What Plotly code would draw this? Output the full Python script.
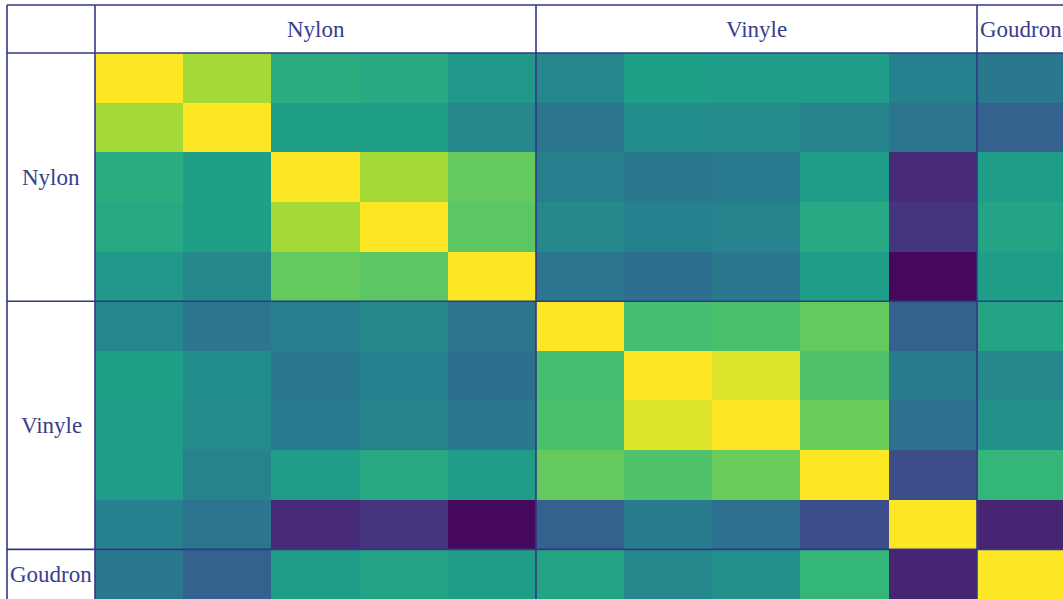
import plotly.graph_objects as go

groups = ["Nylon", "Vinyle", "Goudron"]
group_sizes = [5, 5, 1]

# correlation-like values (viridis, 0..1)
corr = [
    [1.00, 0.86, 0.62, 0.60, 0.53, 0.46, 0.56, 0.55, 0.55, 0.44, 0.40],
    [0.86, 1.00, 0.56, 0.56, 0.47, 0.39, 0.49, 0.48, 0.45, 0.39, 0.31],
    [0.62, 0.56, 1.00, 0.86, 0.76, 0.43, 0.40, 0.41, 0.55, 0.12, 0.55],
    [0.60, 0.56, 0.86, 1.00, 0.74, 0.47, 0.44, 0.45, 0.60, 0.15, 0.58],
    [0.53, 0.47, 0.76, 0.74, 1.00, 0.39, 0.36, 0.40, 0.55, 0.02, 0.55],
    [0.46, 0.39, 0.43, 0.47, 0.39, 1.00, 0.70, 0.71, 0.76, 0.31, 0.58],
    [0.56, 0.49, 0.40, 0.44, 0.36, 0.70, 1.00, 0.95, 0.72, 0.42, 0.47],
    [0.55, 0.48, 0.41, 0.45, 0.40, 0.71, 0.95, 1.00, 0.77, 0.37, 0.50],
    [0.55, 0.45, 0.55, 0.60, 0.55, 0.76, 0.72, 0.77, 1.00, 0.24, 0.66],
    [0.44, 0.39, 0.12, 0.15, 0.02, 0.31, 0.42, 0.37, 0.24, 1.00, 0.10],
    [0.40, 0.31, 0.55, 0.58, 0.55, 0.58, 0.47, 0.50, 0.66, 0.10, 1.00],
]

W, H = 1063, 599
L, T = 95, 53
LINE = "#323885"
TEXT = "#383e8c"
FONT = "Liberation Serif"

n = len(corr)
idx = list(range(n))
# the last column is slightly cut off on the right in the original
x_span = n - 0.025

fig = go.Figure(
    go.Heatmap(
        z=corr,
        x=idx,
        y=idx,
        colorscale="Viridis",
        zmin=0,
        zmax=1,
        showscale=False,
        hoverongaps=False,
    )
)

# paper coordinates of the outer frame
px_left = (7 - L) / (W - L)
py_top = (H - 5) / (H - T)

shapes = []
annotations = []


def line(x0, y0, x1, y1):
    shapes.append(dict(type="line", xref="paper", yref="paper", x0=x0, y0=y0, x1=x1, y1=y1,
                       line=dict(color=LINE, width=1.6), layer="above"))


def label(text, x, y):
    annotations.append(dict(text=text, xref="paper", yref="paper", x=x, y=y,
                            xanchor="center", yanchor="middle", showarrow=False,
                            font=dict(family=FONT, size=23, color=TEXT)))


line(px_left, py_top, 1, py_top)
line(px_left, 1, 1, 1)
line(px_left, 0, px_left, py_top)
line(0, 0, 0, py_top)

start = 0
for g, size in zip(groups, group_sizes):
    end = start + size
    label(g, (start + end) / 2 / x_span, (1 + py_top) / 2)
    label(g, px_left / 2, 1 - (start + end) / 2 / n)
    if end < n:
        line(end / x_span, 0, end / x_span, py_top)
        line(px_left, 1 - end / n, 1, 1 - end / n)
    start = end

fig.update_layout(
    width=W,
    height=H,
    margin=dict(l=L, r=0, t=T, b=0),
    paper_bgcolor="white",
    plot_bgcolor="white",
    shapes=shapes,
    annotations=annotations,
)
fig.update_xaxes(visible=False, range=[-0.5, x_span - 0.5])
fig.update_yaxes(visible=False, range=[n - 0.5, -0.5])

fig.write_html("out.html", config={"displayModeBar": False},
               post_script="document.body.style.margin='0';")
